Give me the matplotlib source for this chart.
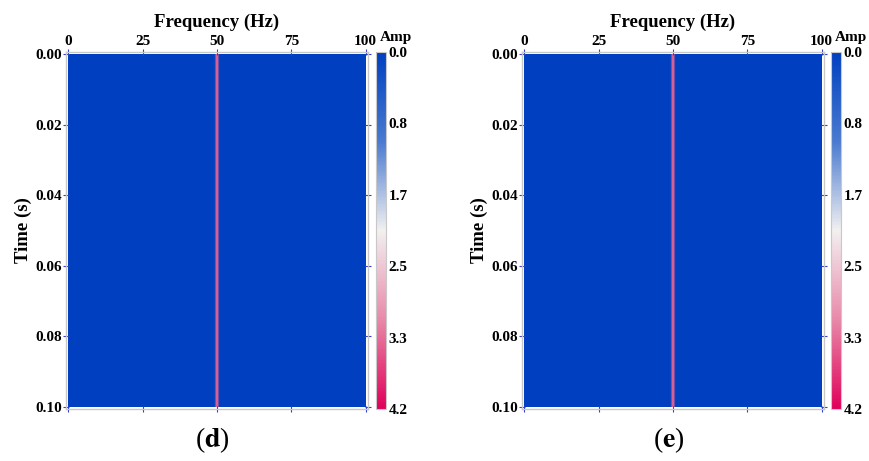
import matplotlib.pyplot as plt
import numpy as np
from matplotlib.colors import LinearSegmentedColormap

# frequency axis (Hz) and time axis (s)
freqs = np.arange(0, 101, 1.0)
times = np.linspace(0, 0.1, 51)

# amplitude spectrum per frequency bin (constant over time): only 50 Hz carries energy
spectrum_d = np.zeros(len(freqs))
spectrum_d[50] = 3.4
spectrum_e = np.zeros(len(freqs))
spectrum_e[50] = 3.4

cbar_ticks = [0.0, 0.83, 1.66, 2.49, 3.32, 4.15]
cbar_labels = ["0.0", "0.8", "1.7", "2.5", "3.3", "4.2"]
x_ticks = [0, 25, 50, 75, 100]
y_ticks = [0.00, 0.02, 0.04, 0.06, 0.08, 0.10]

plt.rcParams['font.family'] = ['Liberation Serif', 'DejaVu Serif']
plt.rcParams['font.weight'] = 'bold'
plt.rcParams['mathtext.fontset'] = 'stix'

cmap = LinearSegmentedColormap.from_list(
    "amp", ["#0040c0", "#4a7ad0", "#f2f0f0", "#e889a8", "#e0005a"])

fig = plt.figure(figsize=(8.69, 4.61), dpi=100)

panels = [
    (spectrum_d, "d", 0.0760, 0.4327),
    (spectrum_e, "e", 0.6007, 0.9563),
]

for spec, tag, left, cleft in panels:
    ax = fig.add_axes([left, 0.1128, 0.3475, 0.7744])
    data = np.tile(spec, (len(times), 1))
    im = ax.imshow(data, cmap=cmap, vmin=0, vmax=4.15, aspect='auto',
                   extent=[freqs[0], freqs[-1], times[-1], times[0]],
                   interpolation='antialiased')
    ax.set_xlim(-0.8, 100.8)
    ax.set_ylim(0.1007, -0.0007)
    ax.xaxis.tick_top()
    ax.xaxis.set_label_position('top')
    ax.set_xticks(x_ticks)
    ax.set_xticklabels([str(t) for t in x_ticks])
    ax.set_yticks(y_ticks)
    ax.set_yticklabels([f"{t:.2f}" for t in y_ticks])
    ax.tick_params(axis='both', which='both', direction='inout', length=4,
                   color='#3040d0', labelsize=11, pad=1,
                   top=True, bottom=True, left=True, right=True)
    ax.set_xlabel("Frequency (Hz)", fontsize=13.5, fontweight='bold', labelpad=6)
    ax.set_ylabel("Time (s)", fontsize=13.5, fontweight='bold', labelpad=2)
    for s in ax.spines.values():
        s.set_color('#c8c8c8')
        s.set_linewidth(1)

    cax = fig.add_axes([cleft, 0.1128, 0.0115, 0.7744])
    cb = fig.colorbar(im, cax=cax)
    cb.set_ticks(cbar_ticks)
    cb.set_ticklabels(cbar_labels)
    cax.invert_yaxis()
    cax.tick_params(length=0, labelsize=11, pad=2)
    cb.outline.set_edgecolor('#c8c8c8')
    fig.text(cleft + 0.004, 0.918, "Amp", ha='left', va='center',
             fontsize=11, fontweight='bold')

    fig.text(left + 0.3475 / 2 - 0.005, 0.045, r"($\mathbf{" + tag + "}$)",
             ha='center', va='center', fontsize=20, fontweight='normal')

fig.savefig("out.png", dpi=100)
